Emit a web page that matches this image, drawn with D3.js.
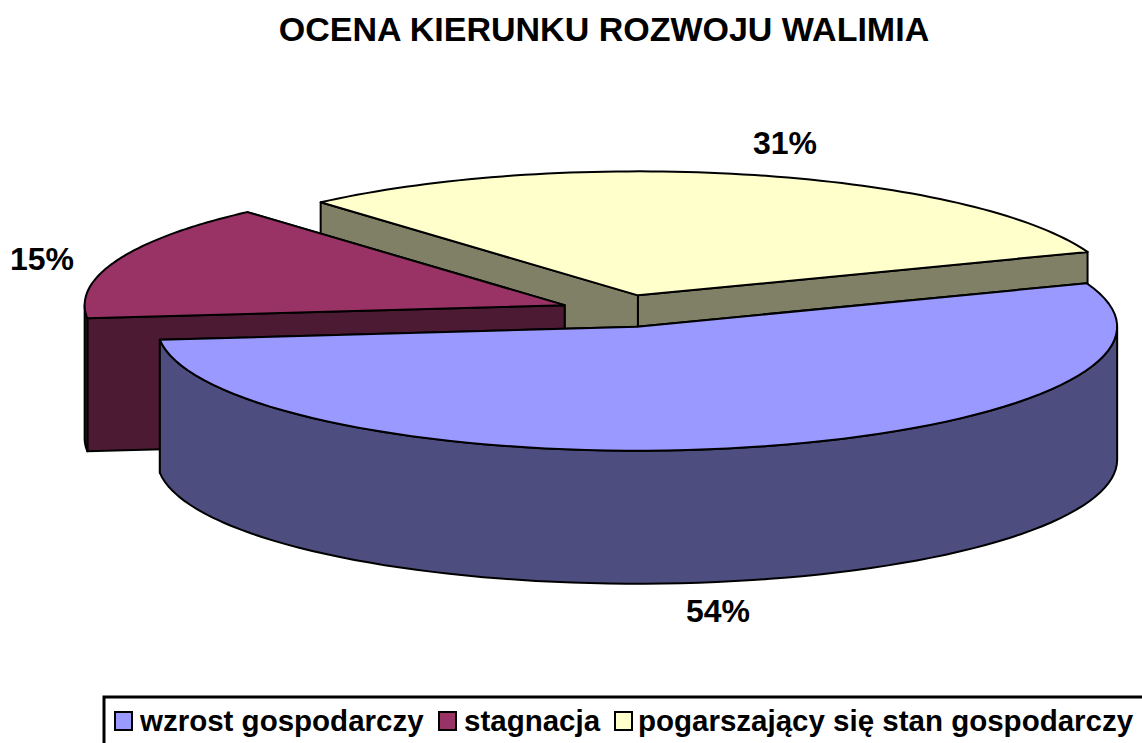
<!DOCTYPE html>
<html><head><meta charset="utf-8">
<script src="https://cdn.jsdelivr.net/npm/d3@7"></script>
<style>html,body{margin:0;padding:0;background:#fff}svg{display:block}text{font-family:"Liberation Sans",Arial,sans-serif;font-weight:bold;fill:#000}</style>
</head><body><svg id="c" width="1142" height="743"></svg>
<script>
const categories = ["wzrost gospodarczy", "stagnacja", "pogarszający się stan gospodarczy"];
const values = [54, 15.2, 30.8];
const labels = ["54%", "15%", "31%"];
const topColors = ["#9999FF", "#993366", "#FFFFCC"];
const wallColors = ["#4D4D80", "#4D1A33", "#808066"];
const title = "OCENA KIERUNKU ROZWOJU WALIMIA";

const svg = d3.select("#c");
const cx = 622.8, cy = 311, rx = 480, ry = 124, depth = 133, explode = 0.13;
const startAngle = 69.5 * Math.PI / 180;

const arcs = d3.pie().sort(null).value(d => d).startAngle(startAngle).endAngle(startAngle + 2 * Math.PI)(values);
const line = d3.line();
const pt = (c, a, dy = 0) => [c.x + rx * Math.sin(a), c.y - ry * Math.cos(a) + dy];
const sample = (a0, a1) => d3.range(0, 81).map(i => a0 + (a1 - a0) * i / 80);

const slices = arcs.map((d, i) => {
  const mid = (d.startAngle + d.endAngle) / 2;
  return { i, d, c: { x: cx + explode * rx * Math.sin(mid), y: cy - explode * ry * Math.cos(mid) } };
});
const g = svg.append("g").attr("stroke", "#000").attr("stroke-width", 2).attr("stroke-linejoin", "round");
[2, 1, 0].forEach(k => {
  const s = slices[k], c = s.c, a0 = s.d.startAngle, a1 = s.d.endAngle;
  const ends = [a0, a1].map(a => ({ a, p: pt(c, a) })).sort((u, v) => u.p[1] - v.p[1]);
  ends.forEach(e => {
    g.append("path").attr("fill", wallColors[k]).attr("d", line([[c.x, c.y], e.p, [e.p[0], e.p[1] + depth], [c.x, c.y + depth]]) + "Z");
  });
  const lo = Math.max(a0, Math.PI / 2), hi = Math.min(a1, 1.5 * Math.PI);
  if (hi > lo) {
    const as = sample(lo, hi);
    g.append("path").attr("fill", wallColors[k])
      .attr("d", line(as.map(a => pt(c, a)).concat(as.slice().reverse().map(a => pt(c, a, depth)))) + "Z");
  }
  g.append("path").attr("fill", topColors[k])
    .attr("d", line([[c.x, c.y]].concat(sample(a0, a1).map(a => pt(c, a)))) + "Z");
});

svg.append("text").attr("x", 604).attr("y", 41).attr("text-anchor", "middle").attr("font-size", 34).text(title);
const labelPos = [[718, 622], [42, 270], [785, 154]];
labels.forEach((t, i) => svg.append("text").attr("x", labelPos[i][0]).attr("y", labelPos[i][1]).attr("text-anchor", "middle").attr("font-size", 32).text(t));

svg.append("rect").attr("x", 104).attr("y", 697).attr("width", 1100).attr("height", 100).attr("fill", "#fff").attr("stroke", "#000").attr("stroke-width", 3);
const legX = [115, 439, 615], legT = [140, 464, 638];
categories.forEach((t, i) => {
  svg.append("rect").attr("x", legX[i]).attr("y", 712).attr("width", 17).attr("height", 18).attr("fill", topColors[i]).attr("stroke", "#000").attr("stroke-width", 2);
  svg.append("text").attr("x", legT[i]).attr("y", 731).attr("font-size", 29.5).text(t);
});
</script></body></html>
